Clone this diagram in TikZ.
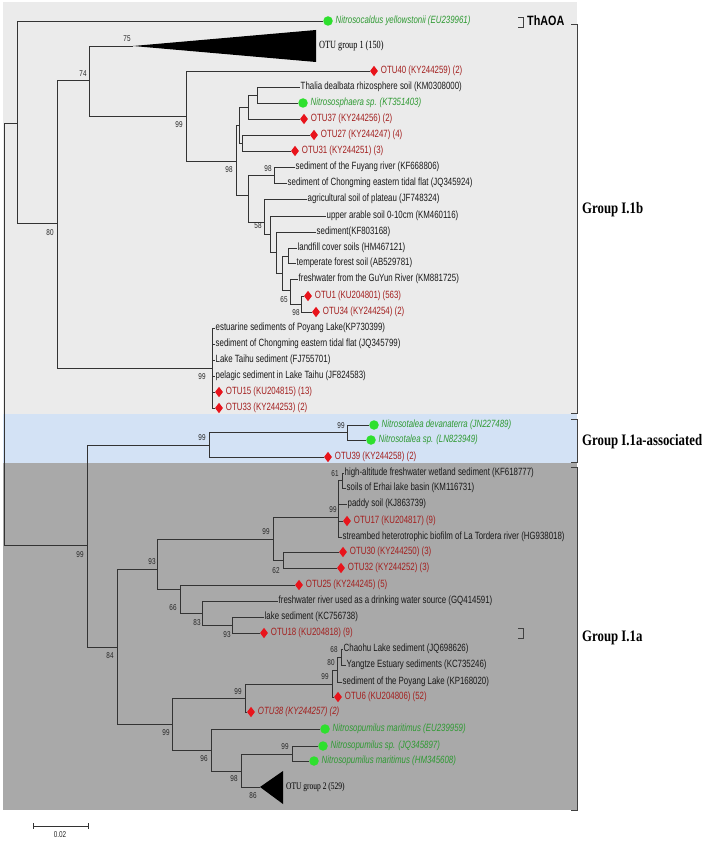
\documentclass[tikz,border=0pt]{standalone}
\usepackage{fontspec}
\setmainfont{Liberation Sans}
\newfontfamily\leaffont[FakeStretch=0.75]{Liberation Sans}
\newfontfamily\cladefont[FakeStretch=0.75]{Liberation Serif}
\newfontfamily\groupfont[FakeStretch=0.8]{Liberation Serif}
\newfontfamily\thfont[FakeStretch=0.8]{Liberation Sans}
\usetikzlibrary{positioning,shapes.geometric}
\definecolor{shadeIb}{HTML}{EBEBEB}
\definecolor{shadeAs}{HTML}{D3E2F5}
\definecolor{shadeIa}{HTML}{A9A9A9}
\definecolor{otured}{HTML}{E8141C}
\definecolor{otutext}{HTML}{A3201F}
\definecolor{straindot}{HTML}{2EE02E}
\definecolor{straintext}{HTML}{2F9A33}
\tikzset{
  branch/.style={draw=black!80, line width=0.75pt},
  leaf/.style={anchor=west, inner sep=0.5pt, text=black!90, font=\fontsize{10.5}{12}\leaffont},
  otulab/.style={leaf, text=otutext},
  strainlab/.style={leaf, text=straintext, font=\fontsize{10.5}{12}\leaffont\itshape},
  reddiam/.style={diamond, fill=otured, inner sep=0pt, minimum width=8pt, minimum height=10.5pt},
  greendot/.style={circle, fill=straindot, inner sep=0pt, minimum size=9.5pt},
  boot/.style={inner sep=0pt, text=black!85, font=\fontsize{8.5}{9}\leaffont},
  cladelab/.style={anchor=west, inner sep=0pt, font=\fontsize{#1}{12}\cladefont},
  grouplab/.style={anchor=west, inner sep=0pt, font=\fontsize{16}{18}\groupfont\bfseries},
  bracket/.style={draw=black!75, line width=0.75pt},
}

\begin{document}
\begin{tikzpicture}[x=1pt, y=-1pt, node distance=2pt]
\useasboundingbox (0,0) rectangle (709,842);
\fill[shadeIb] (3,2) rectangle (577,414);
\fill[shadeAs] (3,414) rectangle (577,463);
\fill[shadeIa] (3,463) rectangle (577,810);

\coordinate (root) at (4,334);
\coordinate (L) at (17,123);
\coordinate (M) at (57,223);
\coordinate (N) at (89,80);
\coordinate (O) at (186,116);
\coordinate (P) at (236,161);
\coordinate (U) at (239,125);
\coordinate (S) at (248,107);
\coordinate (T) at (257,95);
\coordinate (R) at (242,143);
\coordinate (V) at (248,195);
\coordinate (W) at (274,175);
\coordinate (X) at (264,222);
\coordinate (X2) at (270,234);
\coordinate (X3) at (276,252);
\coordinate (X4) at (282,273);
\coordinate (X5) at (288,256);
\coordinate (X6) at (290,290);
\coordinate (X7) at (301,304);
\coordinate (Y) at (212,368);
\coordinate (Z) at (87,545);
\coordinate (AA) at (209,445);
\coordinate (AC) at (347,432);
\coordinate (AB) at (117,647);
\coordinate (AD) at (157,569);
\coordinate (B) at (273,539);
\coordinate (STAR) at (338,517);
\coordinate (n61) at (342,480);
\coordinate (BB) at (283,560);
\coordinate (C) at (180,589);
\coordinate (D) at (202,613);
\coordinate (E) at (232,625);
\coordinate (F) at (172,724);
\coordinate (G) at (245,698);
\coordinate (H) at (332,684);
\coordinate (n80) at (337,670);
\coordinate (n68) at (341,657);
\coordinate (I) at (211,750);
\coordinate (J) at (241,771);
\coordinate (K) at (292,754);
\coordinate (g1) at (133,46);
\coordinate (g2) at (260,787);

\node[greendot] (ncal) at (328,21) {};
\node[strainlab, right=of ncal] (ncalT) {Nitrosocaldus yellowstonii (EU239961)};
\fill (g1) -- (316,30) -- (316,62) -- cycle;
\node[cladelab=11] (g1T) at (319,46) {OTU group 1 (150)};
\node[reddiam] (otu40) at (374,71) {};
\node[otulab, right=of otu40] (otu40T) {OTU40 (KY244259) (2)};
\node[leaf] (thalia) at (300,87) {Thalia dealbata rhizosphere soil (KM0308000)};
\node[greendot] (nsph) at (303,103) {};
\node[strainlab, right=of nsph] (nsphT) {Nitrososphaera sp. (KT351403)};
\node[reddiam] (otu37) at (304,119) {};
\node[otulab, right=of otu37] (otu37T) {OTU37 (KY244256) (2)};
\node[reddiam] (otu27) at (314,135) {};
\node[otulab, right=of otu27] (otu27T) {OTU27 (KY244247) (4)};
\node[reddiam] (otu31) at (295,151) {};
\node[otulab, right=of otu31] (otu31T) {OTU31 (KY244251) (3)};
\node[leaf] (fuyang) at (295,167) {sediment of the Fuyang river (KF668806)};
\node[leaf] (chongE) at (287,183) {sediment of Chongming eastern tidal flat (JQ345924)};
\node[leaf] (agri) at (307,199) {agricultural soil of plateau (JF748324)};
\node[leaf] (upper) at (326,216) {upper arable soil 0-10cm (KM460116)};
\node[leaf] (sedKF) at (316,232) {sediment(KF803168)};
\node[leaf] (landfill) at (297,248) {landfill cover soils (HM467121)};
\node[leaf] (temperate) at (296,263) {temperate forest soil (AB529781)};
\node[leaf] (guyun) at (298,279) {freshwater from the GuYun River (KM881725)};
\node[reddiam] (otu1) at (308,296) {};
\node[otulab, right=of otu1] (otu1T) {OTU1 (KU204801) (563)};
\node[reddiam] (otu34) at (316,312) {};
\node[otulab, right=of otu34] (otu34T) {OTU34 (KY244254) (2)};
\node[leaf] (est) at (215,328) {estuarine sediments of Poyang Lake(KP730399)};
\node[leaf] (chong2) at (215,344) {sediment of Chongming eastern tidal flat (JQ345799)};
\node[leaf] (taihu) at (215,360) {Lake Taihu sediment (FJ755701)};
\node[leaf] (pelagic) at (215,376) {pelagic sediment in Lake Taihu (JF824583)};
\node[reddiam] (otu15) at (219,392) {};
\node[otulab, right=of otu15] (otu15T) {OTU15 (KU204815) (13)};
\node[reddiam] (otu33) at (219,408) {};
\node[otulab, right=of otu33] (otu33T) {OTU33 (KY244253) (2)};

\node[greendot] (ndev) at (374,425) {};
\node[strainlab, right=of ndev] (ndevT) {Nitrosotalea devanaterra (JN227489)};
\node[greendot] (nsp) at (371,440) {};
\node[strainlab, right=of nsp] (nspT) {Nitrosotalea sp. (LN823949)};
\node[reddiam] (otu39) at (328,457) {};
\node[otulab, right=of otu39] (otu39T) {OTU39 (KY244258) (2)};

\node[leaf] (highalt) at (344,473) {high-altitude freshwater wetland sediment (KF618777)};
\node[leaf] (erhai) at (346,488) {soils of Erhai lake basin (KM116731)};
\node[leaf] (paddy) at (347,504) {paddy soil (KJ863739)};
\node[reddiam] (otu17) at (347,521) {};
\node[otulab, right=of otu17] (otu17T) {OTU17 (KU204817) (9)};
\node[leaf] (stream) at (342,537) {streambed heterotrophic biofilm of La Tordera river (HG938018)};
\node[reddiam] (otu30) at (343,552) {};
\node[otulab, right=of otu30] (otu30T) {OTU30 (KY244250) (3)};
\node[reddiam] (otu32) at (341,568) {};
\node[otulab, right=of otu32] (otu32T) {OTU32 (KY244252) (3)};
\node[reddiam] (otu25) at (299,585) {};
\node[otulab, right=of otu25] (otu25T) {OTU25 (KY244245) (5)};
\node[leaf] (fwriver) at (278,601) {freshwater river used as a drinking water source (GQ414591)};
\node[leaf] (lakesed) at (264,617) {lake sediment (KC756738)};
\node[reddiam] (otu18) at (264,633) {};
\node[otulab, right=of otu18] (otu18T) {OTU18 (KU204818) (9)};
\node[leaf] (chaohu) at (343,649) {Chaohu Lake sediment (JQ698626)};
\node[leaf] (yangtze) at (346,665) {Yangtze Estuary sediments (KC735246)};
\node[leaf] (poyang) at (342,682) {sediment of the Poyang Lake (KP168020)};
\node[reddiam] (otu6) at (338,697) {};
\node[otulab, right=of otu6] (otu6T) {OTU6 (KU204806) (52)};
\node[reddiam] (otu38) at (251,712) {};
\node[otulab, font=\fontsize{10.5}{12}\leaffont\itshape, right=of otu38] (otu38T) {OTU38 (KY244257) (2)};
\node[greendot] (nmarEU) at (325,729) {};
\node[strainlab, right=of nmarEU] (nmarEUT) {Nitrosopumilus maritimus (EU239959)};
\node[greendot] (nspJQ) at (323,746) {};
\node[strainlab, right=of nspJQ] (nspJQT) {Nitrosopumilus sp. (JQ345897)};
\node[greendot] (nmarHM) at (314,761) {};
\node[strainlab, right=of nmarHM] (nmarHMT) {Nitrosopumilus maritimus (HM345608)};
\fill (g2) -- (283,771) -- (283,804) -- cycle;
\node[cladelab=10] (g2T) at (286,787) {OTU group 2 (529)};

\draw[branch] (root) |- (L); \draw[branch] (root) |- (Z);
\draw[branch] (L) |- (ncal); \draw[branch] (L) |- (M);
\draw[branch] (M) |- (N); \draw[branch] (M) |- (Y);
\draw[branch] (N) |- (g1); \draw[branch] (N) |- (O);
\draw[branch] (O) |- (otu40); \draw[branch] (O) |- (P);
\draw[branch] (P) |- (U); \draw[branch] (P) |- (V);
\draw[branch] (U) |- (S); \draw[branch] (U) |- (R);
\draw[branch] (S) |- (T); \draw[branch] (S) |- (otu37);
\draw[branch] (T) |- (thalia); \draw[branch] (T) |- (nsph);
\draw[branch] (R) |- (otu27); \draw[branch] (R) |- (otu31);
\draw[branch] (V) |- (W); \draw[branch] (V) |- (X);
\draw[branch] (W) |- (fuyang); \draw[branch] (W) |- (chongE);
\draw[branch] (X) |- (agri); \draw[branch] (X) |- (X2);
\draw[branch] (X2) |- (upper); \draw[branch] (X2) |- (X3);
\draw[branch] (X3) |- (sedKF); \draw[branch] (X3) |- (X4);
\draw[branch] (X4) |- (X5); \draw[branch] (X4) |- (X6);
\draw[branch] (X5) |- (landfill); \draw[branch] (X5) |- (temperate);
\draw[branch] (X6) |- (guyun); \draw[branch] (X6) |- (X7);
\draw[branch] (X7) |- (otu1); \draw[branch] (X7) |- (otu34);
\draw[branch] (Y) |- (est); \draw[branch] (Y) |- (chong2); \draw[branch] (Y) |- (taihu);
\draw[branch] (Y) |- (pelagic); \draw[branch] (Y) |- (otu15); \draw[branch] (Y) |- (otu33);
\draw[branch] (Z) |- (AA); \draw[branch] (Z) |- (AB);
\draw[branch] (AA) |- (AC); \draw[branch] (AA) |- (otu39);
\draw[branch] (AC) |- (ndev); \draw[branch] (AC) |- (nsp);
\draw[branch] (AB) |- (AD); \draw[branch] (AB) |- (F);
\draw[branch] (AD) |- (B); \draw[branch] (AD) |- (C);
\draw[branch] (B) |- (STAR); \draw[branch] (B) |- (BB);
\draw[branch] (STAR) |- (n61); \draw[branch] (STAR) |- (paddy);
\draw[branch] (STAR) |- (otu17); \draw[branch] (STAR) |- (stream);
\draw[branch] (n61) |- (highalt); \draw[branch] (n61) |- (erhai);
\draw[branch] (BB) |- (otu30); \draw[branch] (BB) |- (otu32);
\draw[branch] (C) |- (otu25); \draw[branch] (C) |- (D);
\draw[branch] (D) |- (fwriver); \draw[branch] (D) |- (E);
\draw[branch] (E) |- (lakesed); \draw[branch] (E) |- (otu18);
\draw[branch] (F) |- (G); \draw[branch] (F) |- (I);
\draw[branch] (G) |- (H); \draw[branch] (G) |- (otu38);
\draw[branch] (H) |- (n80); \draw[branch] (H) |- (otu6);
\draw[branch] (n80) |- (n68); \draw[branch] (n80) |- (poyang);
\draw[branch] (n68) |- (chaohu); \draw[branch] (n68) |- (yangtze);
\draw[branch] (I) |- (nmarEU); \draw[branch] (I) |- (J);
\draw[branch] (J) |- (K); \draw[branch] (J) |- (g2);
\draw[branch] (K) |- (nspJQ); \draw[branch] (K) |- (nmarHM);

\node[boot] (bs75) at (127,39) {75};
\node[boot] (bs74) at (83,74) {74};
\node[boot] (bs80) at (50,233) {80};
\node[boot] (bsO) at (179,125) {99};
\node[boot] (bsP) at (229,170) {98};
\node[boot] (bsW) at (268,169) {98};
\node[boot] (bsX) at (258,226) {58};
\node[boot] (bsX6) at (284,300) {65};
\node[boot] (bsX7) at (296,313) {98};
\node[boot] (bsY) at (202,377) {99};
\node[boot] (bsZ) at (80,555) {99};
\node[boot] (bsAA) at (202,438) {99};
\node[boot] (bsAC) at (341,426) {99};
\node[boot] (bsAB) at (110,656) {84};
\node[boot] (bsAD) at (152,562) {93};
\node[boot] (bsB) at (266,532) {99};
\node[boot] (bsSTAR) at (333,510) {99};
\node[boot] (bs61) at (335,474) {61};
\node[boot] (bsBB) at (276,571) {62};
\node[boot] (bsC) at (173,608) {66};
\node[boot] (bsD) at (197,623) {83};
\node[boot] (bsE) at (227,635) {93};
\node[boot] (bsF) at (166,733) {99};
\node[boot] (bsG) at (238,692) {99};
\node[boot] (bsH) at (325,677) {99};
\node[boot] (bs80b) at (331,663) {80};
\node[boot] (bs68) at (334,650) {68};
\node[boot] (bsI) at (204,759) {96};
\node[boot] (bsJ) at (234,779) {98};
\node[boot] (bsK) at (285,747) {99};
\node[boot] (bs86) at (253,796) {86};

\draw[bracket] (518,17) -| (523,27) -- (518,27);
\node[anchor=west, inner sep=0pt, font=\fontsize{13.5}{15}\thfont\bfseries] (thaoa) at (527,21) {ThAOA};
\draw[bracket] (571,24) -| (577,413) -- (571,413);
\draw[bracket] (571,419) -| (577,462) -- (571,462);
\draw[bracket] (571,467) -| (577,810) -- (571,810);
\draw[bracket] (518,628) -| (523,638) -- (518,638);
\node[grouplab] (gIb) at (582,210) {Group I.1b};
\node[grouplab] (gAs) at (582,442) {Group I.1a-associated};
\node[grouplab] (gIa) at (582,638) {Group I.1a};

\coordinate (sb0) at (33,826); \coordinate (sb1) at (88,826);
\draw[branch] (sb0) -- (sb1);
\draw[branch] (33,823) -- (33,829) (88,823) -- (88,829);
\node[boot] (sbT) at (60,835) {0.02};
\end{tikzpicture}
\end{document}
